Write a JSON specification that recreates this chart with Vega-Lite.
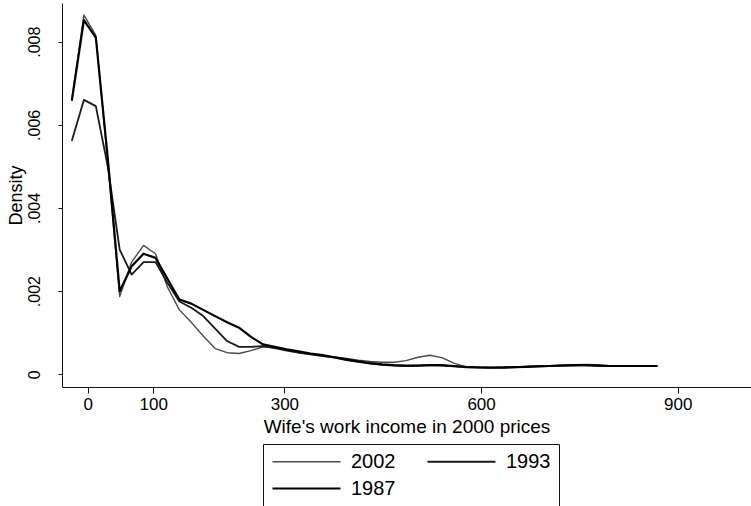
{
  "$schema": "https://vega.github.io/schema/vega-lite/v6.json",
  "width": 689,
  "height": 384,
  "autosize": {"type": "none"},
  "padding": {"left": 62, "top": 3, "right": 0, "bottom": 119},
  "background": "white",
  "config": {
    "view": {"stroke": null},
    "font": "Liberation Sans",
    "axis": {
      "grid": false,
      "domainColor": "#111111",
      "domainWidth": 1,
      "tickColor": "#111111",
      "labelColor": "#000000",
      "titleColor": "#000000",
      "labelFont": "Liberation Sans",
      "titleFont": "Liberation Sans",
      "titleFontWeight": "normal"
    },
    "legend": {"labelFont": "Liberation Sans"}
  },
  "data": {
    "values": [
      {"year": "2002", "x": -24, "d": 0.00664}, {"year": "2002", "x": -5.8, "d": 0.00864}, {"year": "2002", "x": 12.4, "d": 0.00815}, {"year": "2002", "x": 30.6, "d": 0.0051}, {"year": "2002", "x": 48.8, "d": 0.00187},
      {"year": "2002", "x": 67, "d": 0.0027}, {"year": "2002", "x": 85.2, "d": 0.0031}, {"year": "2002", "x": 103.4, "d": 0.0029}, {"year": "2002", "x": 121.6, "d": 0.0021}, {"year": "2002", "x": 139.8, "d": 0.00155},
      {"year": "2002", "x": 158, "d": 0.00125}, {"year": "2002", "x": 176.2, "d": 0.00092}, {"year": "2002", "x": 194.4, "d": 0.00062}, {"year": "2002", "x": 212.6, "d": 0.00052}, {"year": "2002", "x": 230.8, "d": 0.0005},
      {"year": "2002", "x": 249, "d": 0.00057}, {"year": "2002", "x": 267.2, "d": 0.00066}, {"year": "2002", "x": 285.4, "d": 0.00064}, {"year": "2002", "x": 303.6, "d": 0.00058}, {"year": "2002", "x": 321.8, "d": 0.00052},
      {"year": "2002", "x": 340, "d": 0.00048}, {"year": "2002", "x": 358.2, "d": 0.00045}, {"year": "2002", "x": 376.4, "d": 0.00042}, {"year": "2002", "x": 394.6, "d": 0.00038}, {"year": "2002", "x": 412.8, "d": 0.00034},
      {"year": "2002", "x": 431, "d": 0.00031}, {"year": "2002", "x": 449.2, "d": 0.00029}, {"year": "2002", "x": 467.4, "d": 0.00029}, {"year": "2002", "x": 485.6, "d": 0.00033}, {"year": "2002", "x": 503.8, "d": 0.00041},
      {"year": "2002", "x": 522, "d": 0.00046}, {"year": "2002", "x": 540.2, "d": 0.0004}, {"year": "2002", "x": 558.4, "d": 0.00027}, {"year": "2002", "x": 576.6, "d": 0.00018}, {"year": "2002", "x": 594.8, "d": 0.00016},
      {"year": "2002", "x": 613, "d": 0.00016}, {"year": "2002", "x": 631.2, "d": 0.00017}, {"year": "2002", "x": 649.4, "d": 0.00018}, {"year": "2002", "x": 667.6, "d": 0.00019}, {"year": "2002", "x": 685.8, "d": 0.0002},
      {"year": "2002", "x": 704, "d": 0.00021}, {"year": "2002", "x": 722.2, "d": 0.00022}, {"year": "2002", "x": 740.4, "d": 0.00023}, {"year": "2002", "x": 758.6, "d": 0.00024}, {"year": "2002", "x": 776.8, "d": 0.00023},
      {"year": "2002", "x": 795, "d": 0.00021}, {"year": "2002", "x": 813.2, "d": 0.0002}, {"year": "2002", "x": 831.4, "d": 0.0002}, {"year": "2002", "x": 849.6, "d": 0.0002}, {"year": "2002", "x": 867.8, "d": 0.0002},

      {"year": "1993", "x": -24, "d": 0.00563}, {"year": "1993", "x": -5.8, "d": 0.0066}, {"year": "1993", "x": 12.4, "d": 0.00645}, {"year": "1993", "x": 30.6, "d": 0.005}, {"year": "1993", "x": 48.8, "d": 0.003},
      {"year": "1993", "x": 67, "d": 0.0024}, {"year": "1993", "x": 85.2, "d": 0.0027}, {"year": "1993", "x": 103.4, "d": 0.0027}, {"year": "1993", "x": 121.6, "d": 0.0022}, {"year": "1993", "x": 139.8, "d": 0.00175},
      {"year": "1993", "x": 158, "d": 0.0016}, {"year": "1993", "x": 176.2, "d": 0.0014}, {"year": "1993", "x": 194.4, "d": 0.0011}, {"year": "1993", "x": 212.6, "d": 0.0008}, {"year": "1993", "x": 230.8, "d": 0.00066},
      {"year": "1993", "x": 249, "d": 0.00066}, {"year": "1993", "x": 267.2, "d": 0.00068}, {"year": "1993", "x": 285.4, "d": 0.00063}, {"year": "1993", "x": 303.6, "d": 0.00057}, {"year": "1993", "x": 321.8, "d": 0.00052},
      {"year": "1993", "x": 340, "d": 0.00048}, {"year": "1993", "x": 358.2, "d": 0.00044}, {"year": "1993", "x": 376.4, "d": 0.0004}, {"year": "1993", "x": 394.6, "d": 0.00034}, {"year": "1993", "x": 412.8, "d": 0.0003},
      {"year": "1993", "x": 431, "d": 0.00026}, {"year": "1993", "x": 449.2, "d": 0.00023}, {"year": "1993", "x": 467.4, "d": 0.00021}, {"year": "1993", "x": 485.6, "d": 0.0002}, {"year": "1993", "x": 503.8, "d": 0.00021},
      {"year": "1993", "x": 522, "d": 0.00022}, {"year": "1993", "x": 540.2, "d": 0.00021}, {"year": "1993", "x": 558.4, "d": 0.00019}, {"year": "1993", "x": 576.6, "d": 0.00017}, {"year": "1993", "x": 594.8, "d": 0.00016},
      {"year": "1993", "x": 613, "d": 0.00016}, {"year": "1993", "x": 631.2, "d": 0.00016}, {"year": "1993", "x": 649.4, "d": 0.00017}, {"year": "1993", "x": 667.6, "d": 0.00018}, {"year": "1993", "x": 685.8, "d": 0.00019},
      {"year": "1993", "x": 704, "d": 0.0002}, {"year": "1993", "x": 722.2, "d": 0.00021}, {"year": "1993", "x": 740.4, "d": 0.00021}, {"year": "1993", "x": 758.6, "d": 0.00022}, {"year": "1993", "x": 776.8, "d": 0.00021},
      {"year": "1993", "x": 795, "d": 0.0002}, {"year": "1993", "x": 813.2, "d": 0.0002}, {"year": "1993", "x": 831.4, "d": 0.0002}, {"year": "1993", "x": 849.6, "d": 0.0002}, {"year": "1993", "x": 867.8, "d": 0.0002},

      {"year": "1987", "x": -24, "d": 0.0066}, {"year": "1987", "x": -5.8, "d": 0.00852}, {"year": "1987", "x": 12.4, "d": 0.0081}, {"year": "1987", "x": 30.6, "d": 0.0052}, {"year": "1987", "x": 48.8, "d": 0.002},
      {"year": "1987", "x": 67, "d": 0.0026}, {"year": "1987", "x": 85.2, "d": 0.0029}, {"year": "1987", "x": 103.4, "d": 0.0028}, {"year": "1987", "x": 121.6, "d": 0.0023}, {"year": "1987", "x": 139.8, "d": 0.0018},
      {"year": "1987", "x": 158, "d": 0.0017}, {"year": "1987", "x": 176.2, "d": 0.00155}, {"year": "1987", "x": 194.4, "d": 0.0014}, {"year": "1987", "x": 212.6, "d": 0.00125}, {"year": "1987", "x": 230.8, "d": 0.00112},
      {"year": "1987", "x": 249, "d": 0.0009}, {"year": "1987", "x": 267.2, "d": 0.00072}, {"year": "1987", "x": 285.4, "d": 0.00066}, {"year": "1987", "x": 303.6, "d": 0.0006}, {"year": "1987", "x": 321.8, "d": 0.00055},
      {"year": "1987", "x": 340, "d": 0.0005}, {"year": "1987", "x": 358.2, "d": 0.00046}, {"year": "1987", "x": 376.4, "d": 0.00041}, {"year": "1987", "x": 394.6, "d": 0.00036}, {"year": "1987", "x": 412.8, "d": 0.00031},
      {"year": "1987", "x": 431, "d": 0.00027}, {"year": "1987", "x": 449.2, "d": 0.00024}, {"year": "1987", "x": 467.4, "d": 0.00022}, {"year": "1987", "x": 485.6, "d": 0.00021}, {"year": "1987", "x": 503.8, "d": 0.00021},
      {"year": "1987", "x": 522, "d": 0.00022}, {"year": "1987", "x": 540.2, "d": 0.00022}, {"year": "1987", "x": 558.4, "d": 0.0002}, {"year": "1987", "x": 576.6, "d": 0.00018}, {"year": "1987", "x": 594.8, "d": 0.00017},
      {"year": "1987", "x": 613, "d": 0.00016}, {"year": "1987", "x": 631.2, "d": 0.00016}, {"year": "1987", "x": 649.4, "d": 0.00017}, {"year": "1987", "x": 667.6, "d": 0.00018}, {"year": "1987", "x": 685.8, "d": 0.00019},
      {"year": "1987", "x": 704, "d": 0.0002}, {"year": "1987", "x": 722.2, "d": 0.00021}, {"year": "1987", "x": 740.4, "d": 0.00022}, {"year": "1987", "x": 758.6, "d": 0.00022}, {"year": "1987", "x": 776.8, "d": 0.00021},
      {"year": "1987", "x": 795, "d": 0.0002}, {"year": "1987", "x": 813.2, "d": 0.0002}, {"year": "1987", "x": 831.4, "d": 0.0002}, {"year": "1987", "x": 849.6, "d": 0.0002}, {"year": "1987", "x": 867.8, "d": 0.0002}
    ]
  },
  "mark": {"type": "line", "strokeJoin": "round", "strokeCap": "round"},
  "encoding": {
    "x": {
      "field": "x",
      "type": "quantitative",
      "scale": {"domain": [-39.2, 1011.7], "nice": false, "zero": false},
      "axis": {
        "title": "Wife's work income in 2000 prices",
        "values": [0, 100, 300, 600, 900],
        "tickSize": 6,
        "labelPadding": 3,
        "labelFontSize": 17,
        "labelFlush": false,
        "titleFontSize": 19,
        "titleBaseline": "alphabetic",
        "titleY": 45
      }
    },
    "y": {
      "field": "d",
      "type": "quantitative",
      "scale": {"domain": [-0.000305, 0.00893], "nice": false, "zero": false},
      "axis": {
        "title": "Density",
        "values": [0, 0.002, 0.004, 0.006, 0.008],
        "labelExpr": "datum.value == 0 ? '0' : replace(format(datum.value, '.3f'), '0.', '.')",
        "tickSize": 4,
        "labelPadding": 19,
        "labelAngle": -90,
        "labelAlign": "center",
        "labelBaseline": "alphabetic",
        "labelFontSize": 16,
        "labelFlush": false,
        "titleFontSize": 18,
        "titleAngle": -90,
        "titleBaseline": "alphabetic",
        "titleX": -41
      }
    },
    "color": {
      "field": "year",
      "type": "ordinal",
      "scale": {"domain": ["2002", "1993", "1987"], "range": ["#4a4a4a", "#1a1a1a", "#000000"]},
      "legend": {
        "title": null,
        "orient": "none",
        "legendX": 201,
        "legendY": 441,
        "direction": "horizontal",
        "columns": 2,
        "symbolType": "stroke",
        "symbolSize": 4624,
        "clipHeight": 19,
        "rowPadding": 6,
        "columnPadding": 30,
        "labelOffset": 9,
        "labelFontSize": 20,
        "labelColor": "#000000",
        "padding": 8,
        "strokeColor": "#111111",
        "fillColor": "white"
      }
    },
    "strokeWidth": {
      "field": "year",
      "type": "ordinal",
      "scale": {"domain": ["2002", "1993", "1987"], "range": [1.4, 2.2, 3]}
    },
    "detail": {"field": "year"}
  }
}
